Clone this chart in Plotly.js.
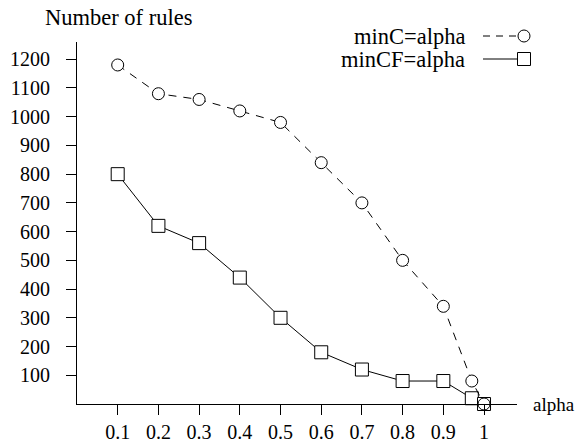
<!DOCTYPE html>
<html>
<head>
<meta charset="utf-8">
<script src="https://cdn.plot.ly/plotly-3.0.1.min.js"></script>
<style>html,body{margin:0;padding:0;background:#fff;}#chart{width:577px;height:443px;}</style>
</head>
<body>
<div id="chart"></div>
<script>
const alphaValues = [0.1, 0.2, 0.3, 0.4, 0.5, 0.6, 0.7, 0.8, 0.9, 0.97, 1.0];
const minCRules = [1180, 1080, 1060, 1020, 980, 840, 700, 500, 340, 80, 0];
const minCFRules = [800, 620, 560, 440, 300, 180, 120, 80, 80, 20, 0];
const xTickVals = [0.1, 0.2, 0.3, 0.4, 0.5, 0.6, 0.7, 0.8, 0.9, 1];
const xTickText = ["0.1", "0.2", "0.3", "0.4", "0.5", "0.6", "0.7", "0.8", "0.9", "1"];
const yTickVals = [100, 200, 300, 400, 500, 600, 700, 800, 900, 1000, 1100, 1200];
const seriesNames = ["minC=alpha", "minCF=alpha"];

const FONT = "Liberation Serif";
const FS_TICK = 20;
const FS_TEXT = 22.5;

const traces = [
  {
    x: alphaValues, y: minCFRules, type: "scatter", mode: "lines+markers",
    name: seriesNames[1], showlegend: false,
    line: {color: "#000", width: 1},
    marker: {symbol: "square", size: 13, color: "#fff", line: {color: "#000", width: 1}},
    cliponaxis: false
  },
  {
    x: alphaValues, y: minCRules, type: "scatter", mode: "lines+markers",
    name: seriesNames[0], showlegend: false,
    line: {color: "#000", width: 1, dash: "8px,7px"},
    marker: {symbol: "circle", size: 12, color: "#fff", line: {color: "#000", width: 1}},
    cliponaxis: false
  }
];

const L = 77, R = 517, T = 42, B = 404;
const px = v => (v - L) / (R - L);
const py = v => (B - v) / (B - T);

const textFont = {family: FONT, size: FS_TEXT, color: "#000"};

const layout = {
  width: 577, height: 443,
  margin: {l: L, r: 577 - R, t: T, b: 443 - B, pad: 0},
  paper_bgcolor: "#fff", plot_bgcolor: "#fff",
  font: {family: FONT, size: FS_TICK, color: "#000"},
  showlegend: false,
  xaxis: {
    range: [0, 1.081], showgrid: false, zeroline: false,
    showline: true, linecolor: "#000", linewidth: 1,
    ticks: "outside", ticklen: 10, tickcolor: "#000", tickwidth: 1,
    tickvals: xTickVals, ticktext: xTickText,
    tickfont: {family: FONT, size: FS_TICK, color: "#000"},
    ticklabelstandoff: 0,
    layer: "above traces", fixedrange: true
  },
  yaxis: {
    range: [0, 1260], showgrid: false, zeroline: false,
    showline: true, linecolor: "#000", linewidth: 1,
    ticks: "outside", ticklen: 10, tickcolor: "#000", tickwidth: 1,
    tickvals: yTickVals,
    tickfont: {family: FONT, size: FS_TICK, color: "#000"},
    ticklabelstandoff: 12,
    fixedrange: true
  },
  annotations: [
    {text: "Number of rules", xref: "paper", yref: "paper", x: px(118.5), y: py(18),
     xanchor: "center", yanchor: "middle", showarrow: false, font: textFont},
    {text: "alpha", xref: "paper", yref: "paper", x: px(576), y: py(404),
     xanchor: "right", yanchor: "middle", showarrow: false, borderpad: 0,
     font: {family: FONT, size: 19, color: "#000"}},
    {text: seriesNames[0], xref: "paper", yref: "paper", x: px(466), y: py(36.5),
     xanchor: "right", yanchor: "middle", showarrow: false, borderpad: 0, font: textFont},
    {text: seriesNames[1], xref: "paper", yref: "paper", x: px(466), y: py(59),
     xanchor: "right", yanchor: "middle", showarrow: false, borderpad: 0, font: textFont}
  ],
  shapes: [
    {type: "line", xref: "paper", yref: "paper", x0: px(483), x1: px(518), y0: py(36), y1: py(36),
     line: {color: "#000", width: 1, dash: "7px,6px"}},
    {type: "circle", xref: "paper", yref: "paper", xsizemode: "pixel", ysizemode: "pixel",
     xanchor: px(524), yanchor: py(36), x0: -6, x1: 6, y0: -6, y1: 6,
     line: {color: "#000", width: 1}, fillcolor: "#fff"},
    {type: "line", xref: "paper", yref: "paper", x0: px(483), x1: px(517.5), y0: py(59), y1: py(59),
     line: {color: "#000", width: 1}},
    {type: "rect", xref: "paper", yref: "paper", xsizemode: "pixel", ysizemode: "pixel",
     xanchor: px(524), yanchor: py(59), x0: -6.5, x1: 6.5, y0: -6.5, y1: 6.5,
     line: {color: "#000", width: 1}, fillcolor: "#fff"}
  ]
};

Plotly.newPlot("chart", traces, layout, {displayModeBar: false, staticPlot: true});
</script>
</body>
</html>
